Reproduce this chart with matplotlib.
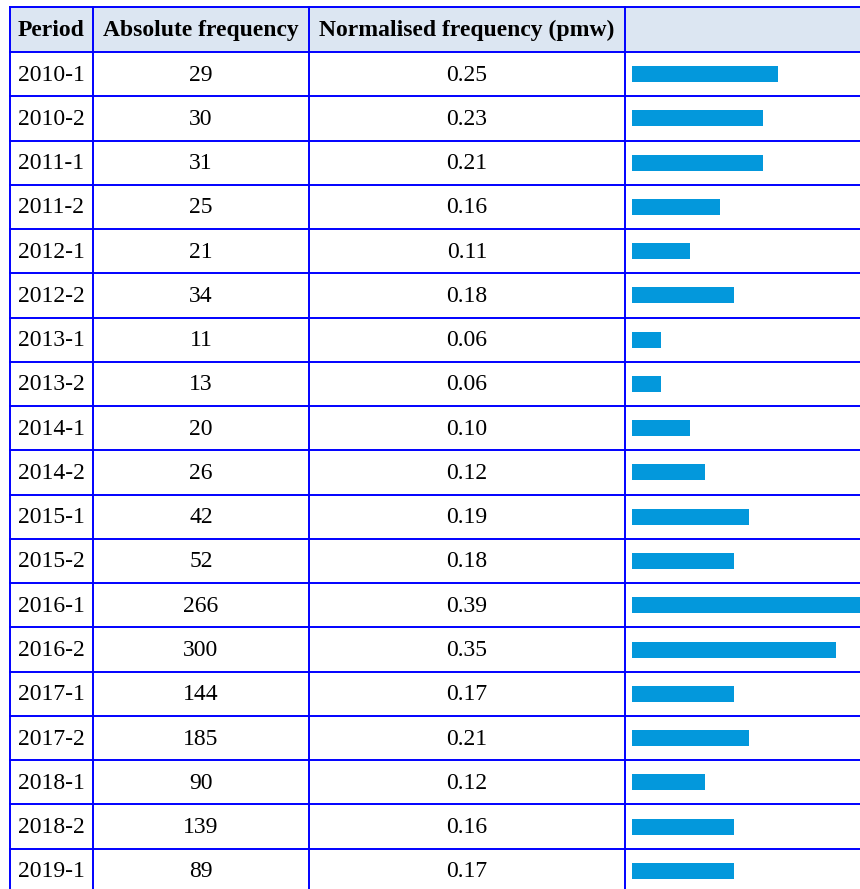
import matplotlib.pyplot as plt
from matplotlib.patches import Rectangle

# table data
periods = ['2010-1', '2010-2', '2011-1', '2011-2', '2012-1', '2012-2', '2013-1',
           '2013-2', '2014-1', '2014-2', '2015-1', '2015-2', '2016-1', '2016-2',
           '2017-1', '2017-2', '2018-1', '2018-2', '2019-1']
abs_freq = [29, 30, 31, 25, 21, 34, 11, 13, 20, 26, 42, 52, 266, 300, 144, 185, 90, 139, 89]
norm_freq = ['0.25', '0.23', '0.21', '0.16', '0.11', '0.18', '0.06', '0.06', '0.10',
             '0.12', '0.19', '0.18', '0.39', '0.35', '0.17', '0.21', '0.12', '0.16', '0.17']
# bar lengths as drawn (they are stepped, not exactly the printed values)
bar_values = [0.25, 0.225, 0.225, 0.15, 0.10, 0.175, 0.05, 0.05, 0.10, 0.125,
              0.20, 0.175, 0.39, 0.35, 0.175, 0.20, 0.125, 0.175, 0.175]
headers = ['Period', 'Absolute frequency', 'Normalised frequency (pmw)', '']

W, H = 860, 889
line_col = '#0000ff'
head_bg = '#dce6f2'
bar_col = '#0398dc'
font = 'Liberation Serif'
fs = 17

# layout in pixels
col_x = [10, 93, 309, 625, 860]
top, head_bot, row_h = 7, 52, 44.26

fig = plt.figure(figsize=(W / 100, H / 100), dpi=100)
ax = fig.add_axes([0, 0, 1, 1])
ax.set_xlim(0, W)
ax.set_ylim(H, 0)
ax.axis('off')

# header
ax.add_patch(Rectangle((col_x[0], top), W - col_x[0], head_bot - top,
                       facecolor=head_bg, edgecolor='none'))
for i, h in enumerate(headers):
    ax.text((col_x[i] + col_x[i + 1]) / 2, (top + head_bot) / 2 + 1, h,
            ha='center', va='center', fontsize=fs, fontweight='bold',
            family=font, color='black')

# body text
for i, p in enumerate(periods):
    yc = head_bot + (i + 0.5) * row_h + 1
    ax.text(18, yc, p, ha='left', va='center', fontsize=fs, family=font)
    ax.text((col_x[1] + col_x[2]) / 2, yc, str(abs_freq[i]), ha='center',
            va='center', fontsize=fs, family=font)
    ax.text((col_x[2] + col_x[3]) / 2, yc, norm_freq[i], ha='center',
            va='center', fontsize=fs, family=font)

# grid lines
lw = 1.4
ax.plot([col_x[0], W], [top, top], color=line_col, lw=lw)
for i in range(len(periods)):
    y = head_bot + i * row_h
    ax.plot([col_x[0], W], [y, y], color=line_col, lw=lw)
for x in col_x[:4]:
    ax.plot([x, x], [top, H], color=line_col, lw=lw)

# bars in the last column, on their own axes
bar_left, px_per_unit = 632, 584
bax = fig.add_axes([bar_left / W, 0, (W - bar_left) / W, (H - head_bot) / H])
n_vis = (H - head_bot) / row_h
bax.set_xlim(0, (W - bar_left) / px_per_unit)
bax.set_ylim(n_vis, 0)
bax.axis('off')
bax.patch.set_alpha(0)
bax.barh([i + 0.5 for i in range(len(periods))], bar_values, height=16 / row_h,
         color=bar_col, left=0)

fig.savefig('out.png', dpi=100)
